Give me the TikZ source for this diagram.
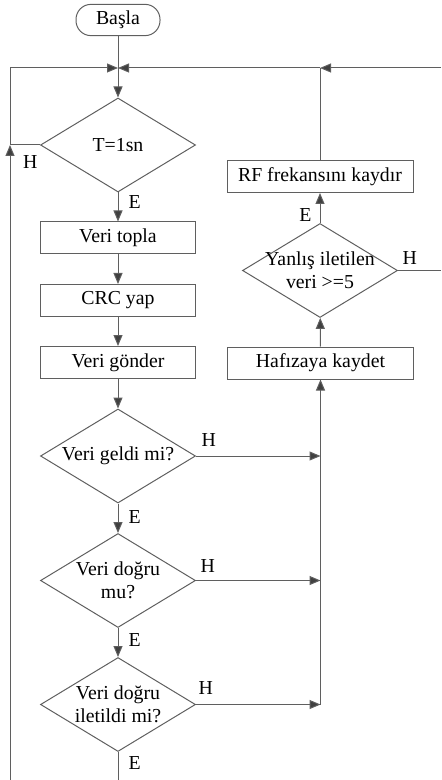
\documentclass[tikz,border=0pt]{standalone}
\usepackage{fontspec}
\setmainfont{Liberation Serif}
\usetikzlibrary{shapes.geometric,arrows.meta}

\definecolor{cizgi}{RGB}{95,95,95}
\definecolor{okrengi}{RGB}{64,64,64}

\tikzset{
  yazi/.style={font=\fontsize{9.9}{11.5}\selectfont},
  kutu/.style={yazi, draw=cizgi, line width=0.5pt, rectangle, minimum width=77.5pt, minimum height=16pt, inner sep=1pt},
  genis/.style={kutu, minimum width=93pt},
  karar/.style={yazi, draw=cizgi, line width=0.5pt, diamond, aspect=1.65, minimum width=77.5pt, minimum height=47pt, inner sep=0pt, align=center},
  bas/.style={yazi, draw=cizgi, line width=0.5pt, rectangle, rounded corners=7.5pt, minimum width=42pt, minimum height=15pt},
  ok/.style={draw=cizgi, line width=0.5pt, -{Triangle[length=5.5pt,width=4.5pt,fill=okrengi]}},
  hat/.style={draw=cizgi, line width=0.5pt},
  etiket/.style={yazi, inner sep=0pt}
}

\begin{document}
\begin{tikzpicture}[x=0.5pt, y=-0.5pt]
  \useasboundingbox (0,0) rectangle (441,780);

  % sol sutun
  \node[bas] (basla) at (118, 20) {Başla};
  \node[karar] (t1) at (118, 145) {T=1sn};
  \node[kutu] (topla) at (118, 238) {Veri topla};
  \node[kutu] (crc) at (118, 300.5) {CRC yap};
  \node[kutu] (gonder) at (118, 362.5) {Veri  gönder};
  \node[karar] (geldi) at (118, 456) {Veri geldi mi?};
  \node[karar] (dogru) at (118, 580.5) {Veri doğru\\mu?};
  \node[karar] (iletildi) at (118, 704.5) {Veri doğru\\iletildi mi?};

  % sag sutun
  \node[genis] (hafiza) at (320.5, 363) {Hafızaya kaydet};
  \node[karar, inner sep=-4.5pt] (yanlis) at (320, 270.5) {Yanlış iletilen\\veri >=5};
  \node[genis] (rf) at (320, 176.5) {RF frekansını kaydır};

  % kose noktalari
  \coordinate (j) at (118, 68);
  \coordinate (jr) at (320, 68);
  \coordinate (re) at (441, 68);
  \coordinate (lh) at (10, 145);
  \coordinate (lb) at (10, 780);
  \coordinate (b) at (118, 780);
  \coordinate (re2) at (441, 270.5);

  % oklar
  \draw[ok] (basla) -- (t1);
  \draw[ok] (lh) |- (j);
  \draw[ok] (lb) -- (lh);
  \draw[hat] (t1.west) -- node[etiket, pos=0, anchor=north east, xshift=-1pt, yshift=-5pt] {H} (lh);
  \draw[ok] (t1) -- node[etiket, pos=0.33, right, xshift=5pt] {E} (topla);
  \draw[ok] (topla) -- (crc);
  \draw[ok] (crc) -- (gonder);
  \draw[ok] (gonder) -- (geldi);
  \draw[ok] (geldi) -- node[etiket, pos=0.46, right, xshift=5pt] {E} (dogru);
  \draw[ok] (dogru) -- node[etiket, pos=0.4, right, xshift=5pt] {E} (iletildi);
  \draw[hat] (iletildi) -- node[etiket, pos=0.4, right, xshift=5pt] {E} (b);

  \draw[ok] (geldi.east) -- node[etiket, pos=0, anchor=south west, xshift=2.5pt, yshift=4.5pt] {H} (geldi.east -| hafiza.south);
  \draw[ok] (dogru.east) -- node[etiket, pos=0, anchor=south west, xshift=2pt, yshift=4pt] {H} (dogru.east -| hafiza.south);
  \draw[ok] (iletildi.east) -- node[etiket, pos=0, anchor=south west, xshift=1pt, yshift=5pt] {H} (iletildi.east -| hafiza.south);
  \draw[ok] (iletildi.east -| hafiza.south) -- (hafiza.south);

  \draw[ok] (hafiza) -- (yanlis);
  \draw[ok] (yanlis) -- node[etiket, pos=0.27, left, xshift=-4pt] {E} (rf);
  \draw[hat] (yanlis.east) -- node[etiket, pos=0, anchor=south west, xshift=2pt, yshift=3pt] {H} (re2);
  \draw[hat] (rf) -- (jr);
  \draw[ok] (re) -- (jr);
  \draw[ok] (jr) -- (j);
\end{tikzpicture}
\end{document}
